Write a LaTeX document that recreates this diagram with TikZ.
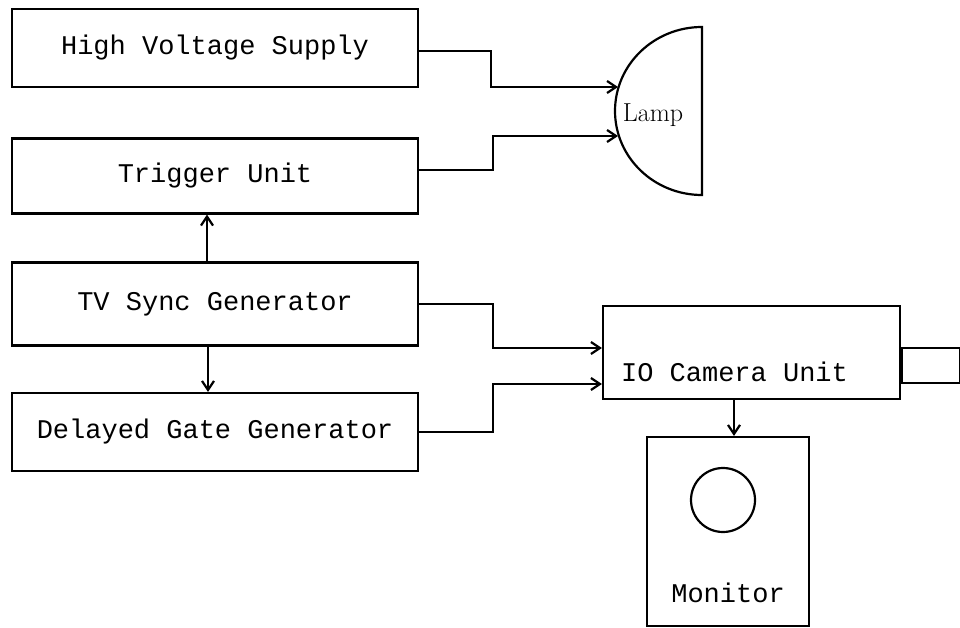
\documentclass[tikz,border=0pt]{standalone}
\usepackage{fontspec}
\setmonofont{Liberation Mono}
\usetikzlibrary{arrows.meta,positioning}

\begin{document}
\begin{tikzpicture}[x=1pt, y=1pt, node distance=128pt, on grid, >={Straight Barb[length=9pt,width=12pt]},
        line width=2.2pt, every node/.style={inner sep=0pt, font=\ttfamily\fontsize{27}{30}\selectfont},
        unit/.style={draw, minimum width=406pt, minimum height=78pt}]
        \useasboundingbox (0,0) rectangle (960,-628);

        \node[unit] (hvs) at (215,-48) {High Voltage Supply};
        \node[unit, minimum height=75pt, below=of hvs] (trig) {Trigger Unit};
        \node[unit, minimum height=83pt, below=of trig] (tvs) {TV Sync Generator};
        \node[unit, below=of tvs] (dgg) {Delayed Gate Generator};

        \node[font=\rmfamily\fontsize{26}{29}\selectfont] (lamptxt) at (653,-115) {Lamp};
        \draw (702,-27) arc[start angle=90, end angle=270, x radius=87, y radius=84] -- cycle;
        \coordinate (lampa) at (618,-87);
        \coordinate (lampb) at (618,-136);

        \node[draw, minimum width=297pt, minimum height=93pt,
            label={[name=camtxt, shift={(-17pt,-19pt)}]center:IO Camera Unit}] (cam) at (751.5,-352.5) {};
        \node[draw, minimum width=58pt, minimum height=35pt, anchor=west] (lens) at ([yshift=-13pt]cam.east) {};

        \node[draw, minimum width=162pt, minimum height=189pt] (mon) at (728,-531.5) {};
        \node[circle, draw, minimum size=64pt] (screen) at ([xshift=-5pt,yshift=31.5pt]mon.center) {};
        \node (montxt) at ([yshift=-61pt]mon.center) {Monitor};

        \draw[->] ([xshift=-8pt]tvs.north) -- ([xshift=-8pt]trig.south);
        \draw[->] ([xshift=-7pt]tvs.south) -- ([xshift=-7pt]dgg.north);
        \draw[->] ([yshift=-3pt]hvs.east) -- ++(72,0) |- (lampa);
        \draw[->] ([yshift=6pt]trig.east) -- ++(74,0) |- (lampb);
        \draw[->] (tvs.east) -- ++(74,0) |- ([yshift=4.5pt]cam.west);
        \draw[->] (dgg.east) -- ++(74,0) |- ([yshift=-31.5pt]cam.west);
        \draw[->] ([xshift=6pt]mon.north |- cam.south) -- ([xshift=6pt]mon.north);
    \end{tikzpicture}
\end{document}
